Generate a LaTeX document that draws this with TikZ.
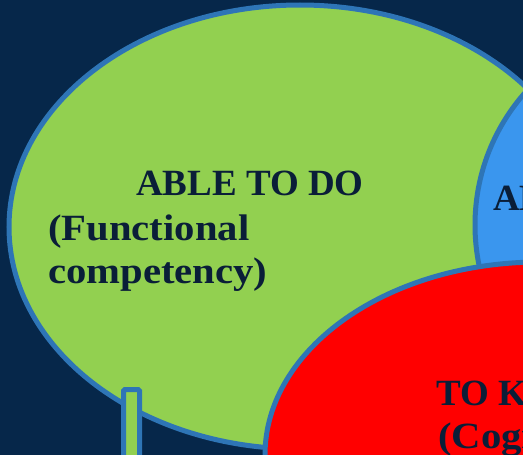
\documentclass[tikz,border=0pt]{standalone}
\usepackage{fontspec}
\setmainfont{Liberation Serif}
\usetikzlibrary{shapes.geometric}
\definecolor{navybg}{HTML}{06274A}
\definecolor{leafgreen}{HTML}{92D050}
\definecolor{rimblue}{HTML}{2E75B6}
\definecolor{skyblue}{HTML}{3A96EE}
\definecolor{inkdark}{HTML}{0A1E38}
\tikzset{
  bubble/.style={draw=rimblue, line width=5pt},
  label text/.style={anchor=base west, inner sep=0pt, text=inkdark,
    font=\fontsize{37}{43}\selectfont\bfseries},
}
\begin{document}
\begin{tikzpicture}[x=1pt, y=-1pt]
  \useasboundingbox (0,0) rectangle (523,455);
  \fill[navybg] (0,0) rectangle (523,455);
  \clip (0,0) rectangle (523,455);
  % green bubble and its stem
  \draw[bubble, fill=leafgreen] (300,227) ellipse [x radius=291, y radius=222];
  \draw[bubble, fill=leafgreen, rounded corners=1.5pt] (123.5,470) -- (123.5,389.5) -- (139.5,389.5) -- (139.5,470);
  % blue bubble
  \draw[bubble, fill=skyblue] (675,225) circle [radius=200];
  % red bubble
  \draw[bubble, fill=red] (540,455) ellipse [x radius=275, y radius=193];
  % labels
  \node[label text] (doA) at (136,195) {ABLE TO DO};
  \node[label text] (doB) at (48,240) {\scalebox{1.1}[1]{(Functional}};
  \node[label text] (doC) at (48,283) {\scalebox{1.1}[1]{competency)}};
  \node[label text] (beA) at (493,210) {AB};
  \node[label text] (knA) at (436,405) {TO KNOW};
  \node[label text] (knB) at (438,448) {\scalebox{1.1}[1]{(Cognitive}};
\end{tikzpicture}
\end{document}
